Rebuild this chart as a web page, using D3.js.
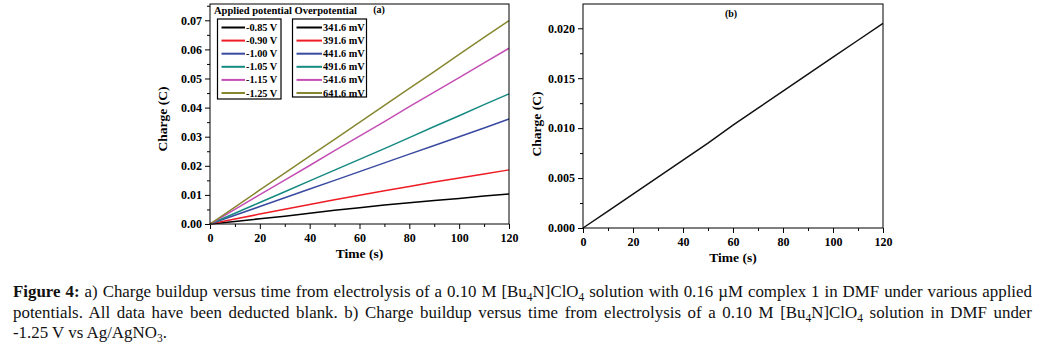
<!DOCTYPE html>
<html>
<head>
<meta charset="utf-8">
<script src="https://cdn.jsdelivr.net/npm/d3@7"></script>
<style>
  body { margin: 0; background: #fff; }
  #wrap { position: relative; width: 1040px; height: 353px; overflow: hidden; }
  svg text { font-family: "Liberation Serif", "Times New Roman", serif; font-weight: bold; }
  .cap { position: absolute; left: 13px; width: 1019px; font-family: "Liberation Serif", "Times New Roman", serif;
         font-size: 16.9px; line-height: 21px; color: #111; white-space: nowrap; }
  .just { text-align: justify; text-align-last: justify; }
  .cap sub { font-size: 11.5px; vertical-align: -4px; line-height: 0; }
</style>
</head>
<body>
<div id="wrap">
  <div id="chart"></div>
  <div class="cap just" style="top:281px"><b>Figure 4:</b> a) Charge buildup versus time from electrolysis of a 0.10 M [Bu<sub>4</sub>N]ClO<sub>4</sub> solution with 0.16 µM complex 1 in DMF under various applied</div>
  <div class="cap just" style="top:302px">potentials. All data have been deducted blank. b) Charge buildup versus time from electrolysis of a 0.10 M [Bu<sub>4</sub>N]ClO<sub>4</sub> solution in DMF under</div>
  <div class="cap" style="top:322px">-1.25 V vs Ag/AgNO<sub>3</sub>.</div>
</div>
<script>
// time axis (s)
const timeS = [0, 10, 20, 30, 40, 50, 60, 70, 80, 90, 100, 110, 120];

// panel (a) legend labels
const appliedPotentials = ["-0.85 V", "-0.90 V", "-1.00 V", "-1.05 V", "-1.15 V", "-1.25 V"];
const overpotentials = ["341.6 mV", "391.6 mV", "441.6 mV", "491.6 mV", "541.6 mV", "641.6 mV"];

// panel (a) charge (C), one array per applied potential
const charge085 = [0, 0.0009, 0.0018, 0.0027, 0.0037, 0.0047, 0.0056, 0.0065, 0.0073, 0.0081, 0.0088, 0.0096, 0.0103];
const charge090 = [0, 0.0017, 0.0034, 0.0051, 0.0067, 0.0083, 0.0099, 0.0114, 0.0129, 0.0144, 0.0158, 0.0172, 0.0186];
const charge100 = [0, 0.0030, 0.0060, 0.0090, 0.0120, 0.0150, 0.0180, 0.0210, 0.0240, 0.0270, 0.0300, 0.0330, 0.0361];
const charge105 = [0, 0.0037, 0.0074, 0.0111, 0.0148, 0.0185, 0.0222, 0.0259, 0.0297, 0.0335, 0.0372, 0.0410, 0.0447];
const charge115 = [0, 0.0050, 0.0101, 0.0151, 0.0201, 0.0252, 0.0302, 0.0352, 0.0403, 0.0453, 0.0503, 0.0554, 0.0604];
const charge125 = [0, 0.0058, 0.0117, 0.0175, 0.0233, 0.0291, 0.0349, 0.0408, 0.0466, 0.0524, 0.0583, 0.0641, 0.0699];

// panel (b) charge (C) at -1.25 V without complex
const chargeBlank = [0, 0.0017, 0.0034, 0.0051, 0.0068, 0.0085, 0.0103, 0.0120, 0.0137, 0.0154, 0.0171, 0.0188, 0.0205];

// tick values
const xTicks = [0, 20, 40, 60, 80, 100, 120];
const xMinor = [10, 30, 50, 70, 90, 110];
const yTicksA = [0, 0.01, 0.02, 0.03, 0.04, 0.05, 0.06, 0.07];
const yMinorA = [0.005, 0.015, 0.025, 0.035, 0.045, 0.055, 0.065, 0.075];
const yTicksB = [0, 0.005, 0.010, 0.015, 0.020];
const yMinorB = [0.0025, 0.0075, 0.0125, 0.0175, 0.0225];

const seriesA = [charge085, charge090, charge100, charge105, charge115, charge125];
const colors = ["#000000", "#ee1c24", "#3a4aa0", "#158a82", "#c44fb4", "#878731"];

const svg = d3.select("#chart")
    .append("svg")
    .attr("width", 1040)
    .attr("height", 272)
    .style("display", "block");

function styleAxis(g) {
    g.select(".domain").remove();
    g.attr("font-family", "Liberation Serif").attr("font-size", 12).attr("font-weight", "bold");
    g.selectAll("line").attr("stroke", "#000");
    g.selectAll("text").attr("fill", "#000");
}

function drawPanel(p) {
    const x = d3.scaleLinear().domain([0, 120]).range([p.left, p.right]);
    const y = d3.scaleLinear().domain([0, p.yMax]).range([p.bottom, p.top]);

    // minor ticks
    svg.append("g")
        .attr("transform", `translate(0,${p.bottom})`)
        .call(d3.axisBottom(x).tickValues(xMinor).tickSize(3).tickFormat(""))
        .call(styleAxis);
    svg.append("g")
        .attr("transform", `translate(${p.left},0)`)
        .call(d3.axisLeft(y).tickValues(p.yMinor.filter(v => v < p.yMax)).tickSize(3).tickFormat(""))
        .call(styleAxis);

    // major ticks
    svg.append("g")
        .attr("transform", `translate(0,${p.bottom})`)
        .call(d3.axisBottom(x).tickValues(xTicks).tickSize(5).tickPadding(4).tickFormat(d3.format("d")))
        .call(styleAxis);
    svg.append("g")
        .attr("transform", `translate(${p.left},0)`)
        .call(d3.axisLeft(y).tickValues(p.yTicks).tickSize(5).tickPadding(p.yPad).tickFormat(d3.format(p.yFmt)))
        .call(styleAxis);

    // data lines
    const line = d3.line()
        .x((d, i) => x(timeS[i]))
        .y(d => y(d));
    svg.selectAll(null)
        .data(p.series)
        .enter().append("path")
        .attr("d", line)
        .attr("fill", "none")
        .attr("stroke", (d, i) => p.colors[i])
        .attr("stroke-width", 1.5);

    // frame
    svg.append("rect")
        .attr("x", p.left)
        .attr("y", p.top)
        .attr("width", p.right - p.left)
        .attr("height", p.bottom - p.top)
        .attr("fill", "none")
        .attr("stroke", "#000")
        .attr("stroke-width", 1);

    // axis titles
    svg.append("text")
        .attr("x", (p.left + p.right) / 2)
        .attr("y", p.bottom + 34)
        .attr("text-anchor", "middle")
        .style("font-size", "13.5px")
        .text("Time (s)");
    svg.append("text")
        .attr("transform", `translate(${p.yTitleX},${p.yTitleY}) rotate(-90)`)
        .attr("text-anchor", "middle")
        .style("font-size", "13.5px")
        .text("Charge (C)");

    // panel label
    svg.append("text")
        .attr("x", p.labelX)
        .attr("y", p.labelY)
        .attr("text-anchor", "middle")
        .style("font-size", "10px")
        .text(p.label);
}

drawPanel({
    left: 210, right: 509, top: 4, bottom: 224, yMax: 0.0756,
    yTicks: yTicksA, yMinor: yMinorA, yFmt: ".2f", yPad: 3,
    series: seriesA, colors: colors,
    yTitleX: 167, yTitleY: 119, label: "(a)", labelX: 379, labelY: 13
});

drawPanel({
    left: 583, right: 883, top: 4, bottom: 228, yMax: 0.02243,
    yTicks: yTicksB, yMinor: yMinorB, yFmt: ".3f", yPad: 3,
    series: [chargeBlank], colors: ["#111111"],
    yTitleX: 541, yTitleY: 124, label: "(b)", labelX: 731, labelY: 17
});

// legend for panel (a)
svg.append("text")
    .attr("x", 214)
    .attr("y", 13.5)
    .style("font-size", "10.5px")
    .text("Applied potential Overpotential");

function legendBox(x0, x1, y0, y1, labels, textX) {
    svg.append("rect")
        .attr("x", x0).attr("y", y0)
        .attr("width", x1 - x0).attr("height", y1 - y0)
        .attr("fill", "#fff")
        .attr("stroke", "#000")
        .attr("stroke-width", 1.2);
    const rows = d3.scalePoint().domain(labels).range([27.5, 93]);
    const item = svg.selectAll(null)
        .data(labels)
        .enter().append("g");
    item.append("line")
        .attr("x1", x0 + 4).attr("x2", textX - 1)
        .attr("y1", d => rows(d)).attr("y2", d => rows(d))
        .attr("stroke", (d, i) => colors[i])
        .attr("stroke-width", 2);
    item.append("text")
        .attr("x", textX)
        .attr("y", d => rows(d) + 3.5)
        .style("font-size", "10.3px")
        .text(d => d);
}

legendBox(217.5, 281, 19, 99, appliedPotentials, 246);
legendBox(292.5, 366.5, 19, 97, overpotentials, 323);
</script>
</body>
</html>
